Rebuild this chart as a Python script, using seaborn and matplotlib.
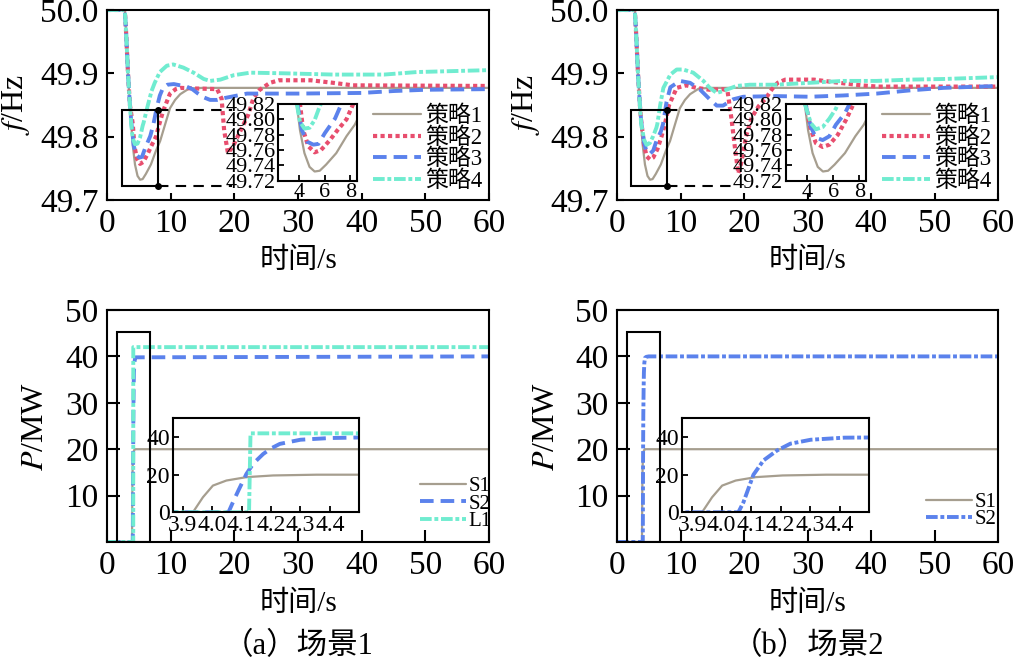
import numpy as np
import pandas as pd
import seaborn as sns
import matplotlib
matplotlib.use("Agg")
import matplotlib.pyplot as plt
from matplotlib.patches import Rectangle
from matplotlib.ticker import FormatStrFormatter

# ---------------------------------------------------------------------------
# Data
# ---------------------------------------------------------------------------
# frequency, strategy 1 (same in both scenes)
t_g = [0, 2.8, 3.0, 3.3, 3.6, 3.8, 4.05, 4.4, 4.8, 5.2, 5.6, 6.1, 6.9, 7.7, 8.35,
       9.0, 9.9, 10.7, 11.5, 12.9, 15, 60]
f_g = [50.0, 50.0, 49.965, 49.9, 49.85, 49.82, 49.786, 49.756, 49.738, 49.732,
       49.733, 49.741, 49.756, 49.778, 49.793, 49.815, 49.845, 49.858, 49.867,
       49.876, 49.877, 49.877]

# scene 1
t_r1 = [0, 2.8, 3.0, 3.3, 3.6, 4.05, 4.3, 4.7, 5.2, 5.7, 6.4, 7.0, 7.7, 8.2, 8.8,
        9.9, 10.8, 11.5, 14, 17.3, 18.0, 18.4, 19.0, 19.8, 21.0, 22.2, 23.0, 24.0,
        25.6, 27, 32, 35.5, 38.6, 60]
f_r1 = [50.0, 50.0, 49.965, 49.9, 49.85, 49.82, 49.786, 49.765, 49.757, 49.76,
        49.773, 49.786, 49.80, 49.819, 49.84, 49.868, 49.875, 49.877, 49.876,
        49.875, 49.86, 49.81, 49.774, 49.785, 49.81, 49.835, 49.861, 49.874,
        49.885, 49.889, 49.889, 49.885, 49.881, 49.88]
t_b1 = [0, 2.8, 3.0, 3.3, 3.6, 3.85, 4.2, 4.6, 5.1, 5.5, 6.0, 6.8, 7.3, 7.8, 8.3,
        8.8, 9.5, 10.5, 11.5, 12.5, 13.4, 14.3, 15.2, 16.2, 17.3, 18.5, 20, 22,
        30, 40, 45, 50, 60]
f_b1 = [50.0, 50.0, 49.965, 49.9, 49.85, 49.82, 49.786, 49.771, 49.767, 49.768,
        49.782, 49.801, 49.82, 49.845, 49.865, 49.877, 49.882, 49.883, 49.881,
        49.879, 49.875, 49.868, 49.862, 49.858, 49.858, 49.861, 49.864, 49.868,
        49.868, 49.869, 49.872, 49.874, 49.875]
t_c1 = [0, 2.8, 3.0, 3.3, 3.6, 3.8, 4.05, 4.4, 4.8, 5.2, 5.6, 5.75, 6.3, 7.0, 7.5,
        8.3, 9.4, 10.4, 12.0, 13.6, 15.2, 16.2, 17.8, 19.9, 22.5, 27.8, 35.6,
        43.5, 48.7, 60]
f_c1 = [50.0, 50.0, 49.965, 49.9, 49.85, 49.82, 49.797, 49.788, 49.789, 49.799,
        49.817, 49.822, 49.845, 49.872, 49.885, 49.902, 49.912, 49.914, 49.909,
        49.901, 49.891, 49.888, 49.89, 49.897, 49.901, 49.90, 49.898, 49.898,
        49.902, 49.905]

# scene 2
t_r2 = [0, 2.8, 3.0, 3.3, 3.6, 3.8, 4.27, 4.66, 5.18, 5.7, 6.35, 7.0, 7.5, 8.2,
        9.4, 10.9, 12.5, 14.6, 16.7, 17.4, 18.0, 18.6, 19.1, 19.6, 20.3, 21.2,
        22.3, 23.4, 24.4, 25.3, 26.5, 31, 35, 38.5, 41, 60]
f_r2 = [50.0, 50.0, 49.965, 49.9, 49.85, 49.825, 49.786, 49.769, 49.764, 49.767,
        49.78, 49.80, 49.818, 49.85, 49.877, 49.881, 49.877, 49.874, 49.875,
        49.872, 49.83, 49.78, 49.742, 49.76, 49.80, 49.83, 49.848, 49.86, 49.875,
        49.885, 49.89, 49.89, 49.885, 49.881, 49.879, 49.879]
t_b2 = [0, 2.8, 3.0, 3.3, 3.6, 3.85, 4.27, 4.66, 5.18, 5.7, 6.2, 6.9, 7.25, 7.8,
        8.4, 9.9, 11.5, 13.1, 14.6, 15.7, 16.7, 18.3, 19.9, 25.1, 30.4, 35.6,
        40.9, 46.1, 51.4, 60]
f_b2 = [50.0, 50.0, 49.965, 49.9, 49.85, 49.82, 49.79, 49.776, 49.773, 49.778,
        49.793, 49.808, 49.82, 49.855, 49.878, 49.888, 49.885, 49.874, 49.859,
        49.849, 49.849, 49.859, 49.863, 49.864, 49.863, 49.865, 49.868, 49.873,
        49.877, 49.88]
t_c2 = [0, 2.8, 3.0, 3.3, 3.6, 3.8, 4.27, 4.66, 5.18, 5.7, 6.2, 6.35, 6.8, 7.3,
        8.4, 9.4, 10.4, 12.0, 13.6, 14.6, 15.7, 16.7, 18.8, 20.9, 25.1, 30.4,
        35.6, 40.9, 46.1, 51.4, 60]
f_c2 = [50.0, 50.0, 49.965, 49.9, 49.85, 49.82, 49.795, 49.787, 49.79, 49.801,
        49.814, 49.82, 49.85, 49.877, 49.898, 49.906, 49.906, 49.901, 49.888,
        49.877, 49.869, 49.872, 49.88, 49.882, 49.882, 49.885, 49.888, 49.888,
        49.89, 49.891, 49.894]

# power, MW
t_s1 = [0, 3.934, 3.968, 4.002, 4.048, 4.116, 4.207, 4.355, 4.5, 60]
p_s1 = [0, 0, 8, 14.2, 16.9, 18.7, 19.6, 20, 20, 20]
t_s2a = [0, 4.055, 4.07, 4.09, 4.116, 4.14, 4.173, 4.2, 4.23, 4.3, 4.4, 4.5, 60]
p_s2a = [0, 0, 5.3, 12, 20.4, 26, 31, 34, 36.4, 38.6, 39.5, 39.8, 40]
t_l1 = [0, 4.125, 4.13, 60]
p_l1 = [0, 0, 42, 42]
t_s2b = [0, 4.057, 4.074, 4.108, 4.142, 4.188, 4.233, 4.302, 4.415, 4.6, 5.0, 60]
p_s2b = [0, 0, 5.3, 20, 27.6, 32.9, 36.5, 38.6, 39.7, 39.9, 40, 40]

strategies = ["策略1", "策略2", "策略3", "策略4"]
freq_ticks = [49.7, 49.8, 49.9, 50.0]
inset_f_ticks = [49.72, 49.74, 49.76, 49.78, 49.80, 49.82]
inset_p_xticks = [3.9, 4.0, 4.1, 4.2, 4.3, 4.4]

# ---------------------------------------------------------------------------
# Styles
# ---------------------------------------------------------------------------
GRAY, RED, BLUE, CYAN = "#a69e8f", "#e84e6e", "#5b82ec", "#70ecd0"
DOT = (0, (1.0, 0.8))
DASH = (0, (3.5, 1.8))
DASHDOT = (0, (3.0, 0.7, 1.0, 0.7))
STYLE = {
    "策略1": (GRAY, "-", 1.6),
    "策略2": (RED, DOT, 3.0),
    "策略3": (BLUE, DASH, 2.8),
    "策略4": (CYAN, DASHDOT, 2.8),
}

sns.set_style("white")
plt.rcParams["font.family"] = ["Liberation Serif", "Noto Sans CJK SC"]
plt.rcParams["mathtext.fontset"] = "stix"
for k in ("text.color", "axes.labelcolor", "xtick.color", "ytick.color", "axes.edgecolor"):
    plt.rcParams[k] = "black"
plt.rcParams["axes.linewidth"] = 1.5


def draw(ax, t, y, color, ls, lw):
    sns.lineplot(x=t, y=y, ax=ax, color=color, linestyle=ls, linewidth=lw,
                 estimator=None, sort=False)
    return ax.lines[-1]


def frame_main(ax, ylim, yticks, ticklen):
    ax.set_xlim(0, 60)
    ax.set_ylim(*ylim)
    ax.set_xticks(range(0, 61, 10))
    ax.set_yticks(yticks)
    ax.tick_params(direction="in", length=ticklen, width=1.5, labelsize=24, pad=6,
                   left=True, bottom=True)
    for s in ax.spines.values():
        s.set_linewidth(1.5)


def frame_inset(ax, size):
    ax.set_facecolor("none")
    ax.tick_params(direction="in", length=4, width=1.3, labelsize=size, pad=2,
                   left=True, bottom=True)
    ax.set_xlabel("")
    ax.set_ylabel("")
    for s in ax.spines.values():
        s.set_linewidth(1.5)


def top_panel(ax, ins, curves, rect, conn_end):
    handles = []
    for (t, f), name in zip(curves, strategies):
        color, ls, lw = STYLE[name]
        handles.append(draw(ax, t, f, color, ls, lw))
        draw(ins, t, f, color, ls, lw)
    frame_main(ax, (49.7, 50.0), freq_ticks, 5)
    ax.yaxis.set_major_formatter(FormatStrFormatter("%.1f"))
    ax.set_xlabel("时间/s", fontsize=21)
    ax.set_ylabel("$f$/Hz", fontsize=23)
    ax.xaxis.set_label_coords(0.5, -0.25)
    ax.yaxis.set_label_coords(-0.196, 0.5)

    x0, x1, y0, y1 = rect
    ax.add_patch(Rectangle((x0, y0), x1 - x0, y1 - y0, fill=False, ec="black",
                           lw=1.5, zorder=4))
    for yy in (y1, y0):
        ax.plot([x1, conn_end], [yy, yy], color="black", lw=1.5,
                ls=(0, (5, 3.5)), zorder=4)
        ax.plot([x1], [yy], "o", color="black", ms=4, zorder=5)

    ax.legend(handles, strategies, loc="center right", bbox_to_anchor=(1.02, 0.27),
              frameon=False, fontsize=16.5, labelspacing=0.0, handlelength=2.1,
              handletextpad=0.2, borderaxespad=0.2)

    frame_inset(ins, 16)
    ins.set_xlim(2.35, 8.5)
    ins.set_ylim(49.72, 49.82)
    ins.set_xticks([4, 6, 8])
    ins.set_yticks(inset_f_ticks)
    ins.yaxis.set_major_formatter(FormatStrFormatter("%.2f"))


def bottom_panel(ax, ins, curves, labels, legend_x, legend_y):
    handles = []
    for (t, p, color, ls, lw) in curves:
        handles.append(draw(ax, t, p, color, ls, lw))
        draw(ins, t, p, color, ls, lw)
    frame_main(ax, (0, 50), [10, 20, 30, 40, 50], 9)
    ax.set_xlabel("时间/s", fontsize=21)
    ax.set_ylabel("$P$/MW", fontsize=23)
    ax.xaxis.set_label_coords(0.5, -0.21)
    ax.yaxis.set_label_coords(-0.148, 0.5)
    ax.add_patch(Rectangle((1.55, 0), 5.2, 45.3, fill=False, ec="black", lw=1.5,
                           zorder=4))
    ax.legend(handles, labels, loc="center right", bbox_to_anchor=(legend_x, legend_y),
              frameon=False, fontsize=15, labelspacing=-0.1, handlelength=2.2,
              handletextpad=0.15, borderaxespad=0.2)

    frame_inset(ins, 17)
    ins.set_xlim(3.865, 4.5)
    ins.set_ylim(0, 50)
    ins.set_xticks(inset_p_xticks)
    ins.set_yticks([0, 20, 40])
    ins.xaxis.set_major_formatter(FormatStrFormatter("%.1f"))


fig = plt.figure(figsize=(10.15, 6.6), dpi=100)

ax_a = fig.add_axes([0.1054, 0.697, 0.3764, 0.2879])
ax_b = fig.add_axes([0.6079, 0.697, 0.3754, 0.2879])
ax_c = fig.add_axes([0.1054, 0.1788, 0.3764, 0.3515])
ax_d = fig.add_axes([0.6079, 0.1788, 0.3754, 0.3515])

in_a = fig.add_axes([0.2742, 0.7262, 0.0772, 0.1162])
in_b = fig.add_axes([0.7744, 0.7262, 0.0785, 0.1162])
in_c = fig.add_axes([0.1701, 0.2238, 0.1838, 0.1424])
in_d = fig.add_axes([0.6716, 0.2238, 0.1848, 0.1424])

top_panel(ax_a, in_a, [(t_g, f_g), (t_r1, f_r1), (t_b1, f_b1), (t_c1, f_c1)],
          (2.3, 7.96, 49.722, 49.842), 19.6)
top_panel(ax_b, in_b, [(t_g, f_g), (t_r2, f_r2), (t_b2, f_b2), (t_c2, f_c2)],
          (2.15, 7.92, 49.722, 49.842), 18.3)

bottom_panel(ax_c, in_c,
             [(t_s1, p_s1, GRAY, "-", 1.6),
              (t_s2a, p_s2a, BLUE, DASH, 2.8),
              (t_l1, p_l1, CYAN, DASHDOT, 2.8)],
             ["S1", "S2", "L1"], 1.04, 0.164)
bottom_panel(ax_d, in_d,
             [(t_s1, p_s1, GRAY, "-", 1.6),
              (t_s2b, p_s2b, BLUE, DASHDOT, 2.8)],
             ["S1", "S2"], 1.03, 0.134)

fig.text(298 / 1015, 0.02, "（a）场景1", ha="center", va="center", fontsize=22)
fig.text(808 / 1015, 0.02, "（b）场景2", ha="center", va="center", fontsize=22)

fig.savefig("out.png", dpi=100)
